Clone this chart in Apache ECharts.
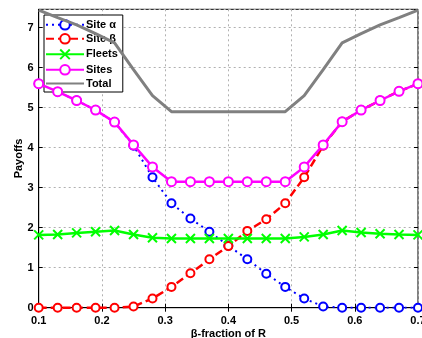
<!DOCTYPE html>
<html>
<head>
<meta charset="utf-8">
<script src="https://cdn.jsdelivr.net/npm/echarts@6/dist/echarts.min.js"></script>
<style>
  html, body { margin: 0; padding: 0; background: #fff; }
  #main { width: 422px; height: 338px; }
</style>
</head>
<body>
<div id="main"></div>
<script>
// beta fraction of R (x positions of the points)
var betaFrac = [0.10, 0.13, 0.16, 0.19, 0.22, 0.25, 0.28, 0.31, 0.34, 0.37, 0.40,
                0.43, 0.46, 0.49, 0.52, 0.55, 0.58, 0.61, 0.64, 0.67, 0.70];
var siteAlpha = [5.6, 5.4, 5.18, 4.94, 4.64, 4.05, 3.26, 2.61, 2.23, 1.9, 1.55,
                 1.21, 0.85, 0.52, 0.23, 0.03, 0, 0, 0, 0, 0];
var siteBeta = [0, 0, 0, 0, 0, 0.03, 0.23, 0.52, 0.86, 1.21, 1.54,
                1.92, 2.21, 2.61, 3.26, 4.05, 4.65, 4.94, 5.18, 5.41, 5.6];
var fleets = [1.82, 1.83, 1.87, 1.9, 1.93, 1.83, 1.75, 1.73, 1.73, 1.73, 1.73,
              1.73, 1.73, 1.73, 1.77, 1.83, 1.93, 1.88, 1.85, 1.83, 1.82];
var sites = [5.6, 5.4, 5.18, 4.94, 4.64, 4.07, 3.52, 3.15, 3.15, 3.15, 3.15,
             3.15, 3.15, 3.15, 3.52, 4.07, 4.65, 4.94, 5.18, 5.41, 5.6];
var total = [7.44, 7.25, 7.07, 6.85, 6.62, 5.95, 5.3, 4.9, 4.9, 4.9, 4.9,
             4.9, 4.9, 4.9, 5.3, 5.95, 6.62, 6.85, 7.07, 7.25, 7.44];

function pairs(ys) {
    var out = [];
    for (var i = 0; i < betaFrac.length; i++) {
        out.push([betaFrac[i], ys[i]]);
    }
    return out;
}

var font = 'Liberation Sans, Arial, sans-serif';
var gridLine = { show: true, lineStyle: { color: '#b0b0b0', type: [2, 3], width: 1 } };
var crossPath = 'path://M0,0L10,10M10,0L0,10';

var myChart = echarts.init(document.getElementById('main'));

var option = {
    animation: false,
    backgroundColor: '#fff',
    grid: {
        left: 38.7, right: 4, top: 9.3, bottom: 30.3,
        outerBoundsMode: 'none', containLabel: false,
        show: true, borderColor: '#000', borderWidth: 1, backgroundColor: 'transparent'
    },
    legend: {
        orient: 'vertical',
        left: 44, top: 15,
        padding: [4, 5, 3, 1],
        itemWidth: 38, itemHeight: 12, itemGap: 2.4,
        backgroundColor: '#fff',
        borderColor: '#000', borderWidth: 1, borderRadius: 0,
        textStyle: { fontFamily: font, fontWeight: 'bold', fontSize: 11, color: '#000', padding: [0, 0, 0, -3] },
        data: ['Site α', 'Site β', 'Fleets', 'Sites',
               { name: 'Total', itemStyle: { opacity: 0 } }]
    },
    xAxis: [{
        type: 'value', min: 0.1, max: 0.7, interval: 0.1,
        name: 'β-fraction of R', nameLocation: 'middle', nameGap: 21, nameMoveOverlap: false,
        nameTextStyle: { fontFamily: font, fontWeight: 'bold', fontSize: 11, color: '#000' },
        axisLine: { show: true, lineStyle: { color: '#000' } },
        axisTick: { show: true, inside: true, length: 4, lineStyle: { color: '#000' } },
        axisLabel: { fontFamily: font, fontWeight: 'bold', fontSize: 11, color: '#000', margin: 8,
                     formatter: function (v) { return v.toFixed(1); } },
        splitLine: gridLine
    }, {
        type: 'value', position: 'top', min: 0.1, max: 0.7, interval: 0.1,
        axisLine: { show: false },
        axisTick: { show: true, inside: true, length: 4, lineStyle: { color: '#000' } },
        axisLabel: { show: false }, splitLine: { show: false }
    }],
    yAxis: [{
        type: 'value', min: 0, max: 7.46, interval: 1,
        name: 'Payoffs', nameLocation: 'middle', nameGap: 14, nameMoveOverlap: false,
        nameTextStyle: { fontFamily: font, fontWeight: 'bold', fontSize: 11, color: '#000' },
        axisLine: { show: true, lineStyle: { color: '#000' } },
        axisTick: { show: true, inside: true, length: 4, lineStyle: { color: '#000' } },
        axisLabel: { fontFamily: font, fontWeight: 'bold', fontSize: 11, color: '#000', margin: 5,
                     showMaxLabel: false },
        splitLine: gridLine
    }, {
        type: 'value', position: 'right', min: 0, max: 7.46, interval: 1,
        axisLine: { show: false },
        axisTick: { show: true, inside: true, length: 4, lineStyle: { color: '#000' } },
        axisLabel: { show: false }, splitLine: { show: false }
    }],
    series: [{
        name: 'Site α', type: 'line', data: pairs(siteAlpha),
        symbol: 'emptyCircle', symbolSize: 8,
        lineStyle: { color: '#0000ff', width: 2, type: [2, 4] },
        itemStyle: { color: '#0000ff', borderColor: '#0000ff', borderWidth: 2 },
        z: 2
    }, {
        name: 'Site β', type: 'line', data: pairs(siteBeta),
        symbol: 'emptyCircle', symbolSize: 8,
        lineStyle: { color: '#ff0000', width: 2.5, type: [8, 4] },
        itemStyle: { color: '#ff0000', borderColor: '#ff0000', borderWidth: 2 },
        z: 3
    }, {
        name: 'Fleets', type: 'line', data: pairs(fleets),
        symbol: crossPath, symbolSize: 9,
        lineStyle: { color: '#00ff00', width: 2.5 },
        itemStyle: { color: 'none', borderColor: '#00ff00', borderWidth: 2 },
        z: 4
    }, {
        name: 'Sites', type: 'line', data: pairs(sites),
        symbol: 'emptyCircle', symbolSize: 9,
        lineStyle: { color: '#ff00ff', width: 2.5 },
        itemStyle: { color: '#ff00ff', borderColor: '#ff00ff', borderWidth: 2 },
        z: 5
    }, {
        name: 'Total', type: 'line', data: pairs(total),
        symbol: 'none',
        lineStyle: { color: '#808080', width: 3 },
        itemStyle: { color: '#808080' },
        z: 6
    }]
};

myChart.setOption(option);
</script>
</body>
</html>
